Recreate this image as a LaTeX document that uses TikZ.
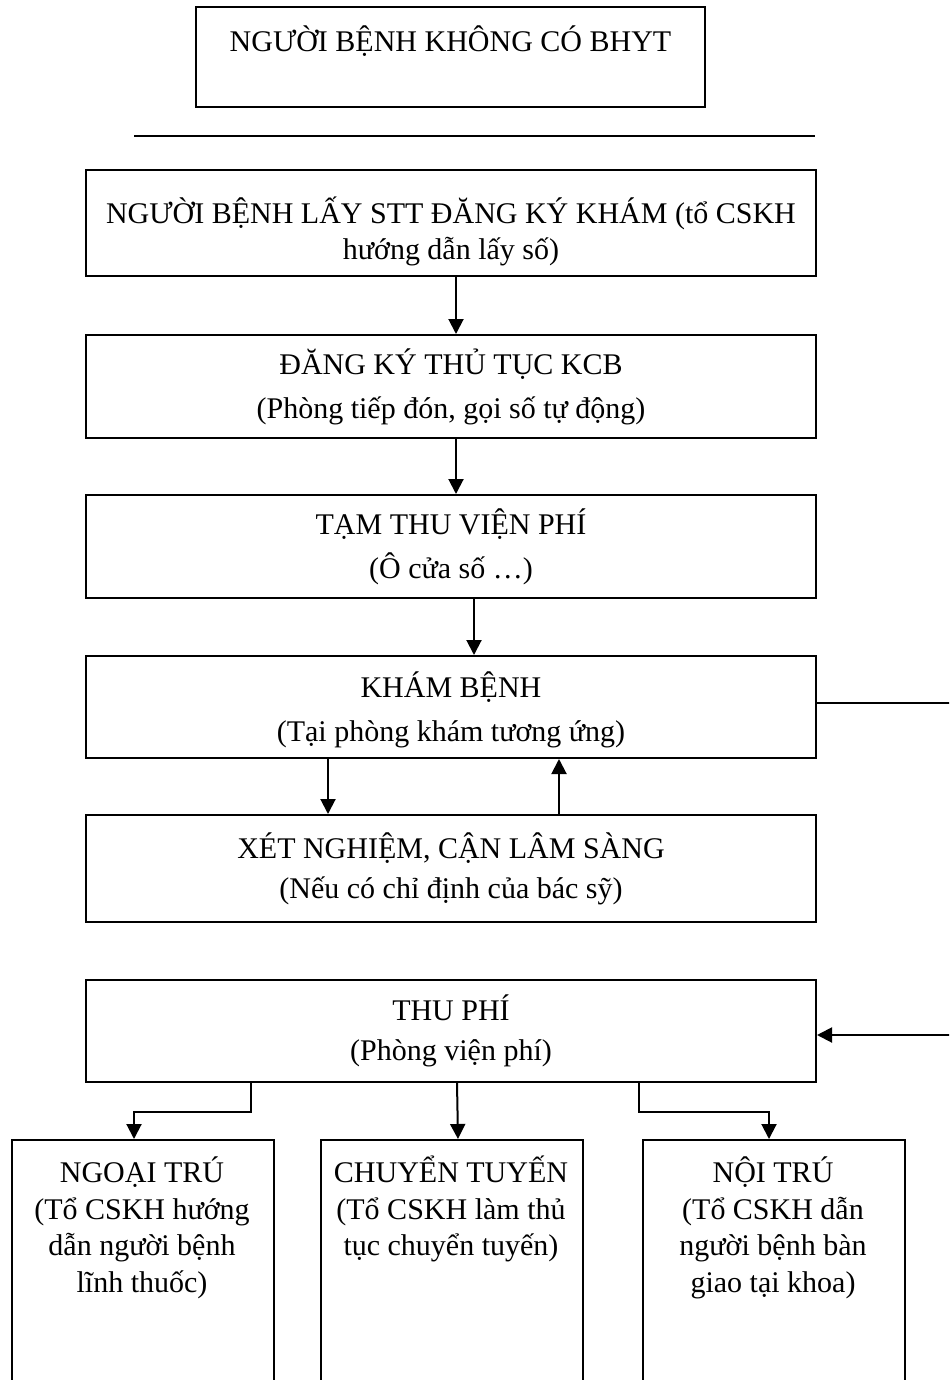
\documentclass[tikz,border=0pt]{standalone}
\usepackage{fontspec}
\setmainfont{Liberation Serif}
\usetikzlibrary{arrows.meta,calc}
\newcommand{\topstrut}[1]{\rule{0pt}{#1}}
\newcommand{\botstrut}[1]{\rule[-#1]{0pt}{#1}}
\begin{document}
\begin{tikzpicture}[x=0.5pt,y=-0.5pt,
  box/.style={draw,line width=1pt,align=center,inner sep=0pt,minimum width=365pt,
    font=\fontsize{15}{22}\selectfont},
  tbox/.style={draw,line width=1pt,inner sep=0pt,minimum width=131pt,minimum height=140pt,anchor=north west},
  ttext/.style={anchor=north,align=center,inner sep=0pt,font=\fontsize{15}{18.3}\selectfont},
  arr/.style={line width=1pt,-{Triangle[length=7.5pt,width=7.5pt]}},
  ln/.style={line width=1pt}]
\useasboundingbox (0,0) rectangle (949,1380);
\clip (0,0) rectangle (949,1380);

\node[box,minimum width=254.5pt,minimum height=50pt,text height=15pt,text depth=20pt] (top) at (450.5,57) {NGƯỜI BỆNH KHÔNG CÓ BHYT};

\coordinate (s1) at (134,136);
\coordinate (s2) at (815,136);
\draw[ln] (s1) -- (s2);

\node[box,minimum height=52.5pt,font=\fontsize{15}{17.5}\selectfont] (stt) at (451,223) {\topstrut{23.5pt}NGƯỜI BỆNH LẤY STT ĐĂNG KÝ KHÁM (tổ CSKH\\hướng dẫn lấy số)\botstrut{5pt}};
\node[box,minimum height=51.5pt] (dk) at (451,386.5) {ĐĂNG KÝ THỦ TỤC KCB\\(Phòng tiếp đón, gọi số tự động)};
\node[box,minimum height=51.5pt] (tam) at (451,546.5) {TẠM THU VIỆN PHÍ\\(Ô cửa số …)};
\node[box,minimum height=51pt] (kham) at (451,707) {\topstrut{16pt}KHÁM BỆNH\\(Tại phòng khám tương ứng)\botstrut{3pt}};
\node[box,minimum height=53.5pt,font=\fontsize{15}{20}\selectfont] (xet) at (451,868.5) {XÉT NGHIỆM, CẬN LÂM SÀNG\\(Nếu có chỉ định của bác sỹ)};
\node[box,minimum height=51pt,font=\fontsize{15}{20}\selectfont] (thu) at (451,1031) {THU PHÍ\\(Phòng viện phí)};

\node[tbox] (ngoai) at (11,1139) {};
\node[tbox] (chuyen) at (320,1139) {};
\node[tbox] (noi) at (642,1139) {};
\node[ttext] (ngoaiT) at (142,1152) {\topstrut{15pt}NGOẠI TRÚ\\(Tổ CSKH hướng\\dẫn người bệnh\\lĩnh thuốc)};
\node[ttext] (chuyenT) at (451,1152) {\topstrut{15pt}CHUYỂN TUYẾN\\(Tổ CSKH làm thủ\\tục chuyển tuyến)};
\node[ttext] (noiT) at (773,1152) {\topstrut{15pt}NỘI TRÚ\\(Tổ CSKH dẫn\\người bệnh bàn\\giao tại khoa)};

\draw[arr] ($(stt.south)+(5,0)$) -- ($(dk.north)+(5,0)$);
\draw[arr] ($(dk.south)+(5,0)$) -- ($(tam.north)+(5,0)$);
\draw[arr] ($(tam.south)+(23,0)$) -- ($(kham.north)+(23,0)$);
\draw[arr] ($(kham.south)+(-123,0)$) -- ($(xet.north)+(-123,0)$);
\draw[arr] ($(xet.north)+(108,0)$) -- ($(kham.south)+(108,0)$);
\draw[arr] ($(kham.east)+(0,-4)$) -- ++(200,0) |- ($(thu.east)+(0,4)$);

\coordinate (bl) at (251,1112);
\coordinate (bl2) at (134,1112);
\coordinate (br) at (639,1112);
\coordinate (br2) at (769,1112);
\draw[arr] (thu.south -| bl) -- (bl) -- (bl2) -- (bl2 |- ngoai.north);
\draw[arr] ($(thu.south)+(6,0)$) -- ($(chuyen.north)+(6,0)$);
\draw[arr] (thu.south -| br) -- (br) -- (br2) -- (br2 |- noi.north);
\end{tikzpicture}
\end{document}
